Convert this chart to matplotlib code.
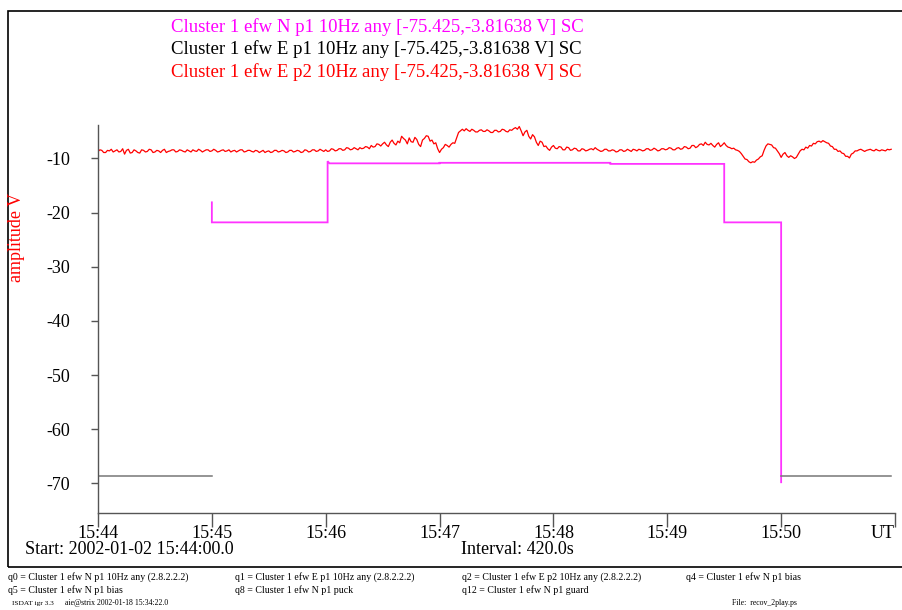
import numpy as np
import matplotlib
matplotlib.use("Agg")
import matplotlib.pyplot as plt
from matplotlib.patches import Rectangle

plt.rcParams['font.family'] = ['Liberation Serif', 'DejaVu Serif']

# ---- data ----
tick_labels = ["15:44", "15:45", "15:46", "15:47", "15:48", "15:49", "15:50", "UT"]
tick_secs = [0, 60, 120, 180, 240, 300, 360, 420]
y_ticks = [-10, -20, -30, -40, -50, -60, -70]
y_range = [-75.425, -3.81638]

# E p2 (red), one sample per second starting at 15:44:00
e_p2 = [
    -8.7, -8.4, -8.5, -8.9, -8.9, -8.5, -8.6, -8.3, -8.8, -8.6, -8.4, -8.8, -8.7, -8.2, -9.2, -8.5, -8.3, -9.0, -8.9, -8.4,
    -8.6, -8.9, -9.0, -8.4, -8.5, -8.8, -8.7, -8.3, -8.4, -8.9, -8.8, -8.5, -8.6, -8.9, -8.5, -8.3, -8.9, -8.7, -8.6, -8.4,
    -8.4, -8.8, -8.7, -8.4, -8.5, -8.7, -8.8, -8.4, -8.6, -8.8, -8.4, -8.6, -8.7, -8.3, -8.5, -8.8, -8.6, -8.4, -8.4, -8.7,
    -8.6, -8.3, -8.5, -8.8, -8.7, -8.5, -8.4, -8.7, -8.6, -8.4, -8.8, -8.6, -8.5, -8.8, -8.6, -8.4, -8.4, -8.8, -8.7, -8.5,
    -8.5, -8.7, -8.8, -8.5, -8.6, -8.9, -8.7, -8.5, -8.9, -8.7, -8.6, -8.9, -8.8, -8.5, -8.5, -8.8, -8.7, -8.5, -8.6, -8.9,
    -8.8, -8.5, -8.5, -8.8, -8.7, -8.5, -8.6, -8.9, -8.8, -8.4, -8.5, -8.8, -8.7, -8.4, -8.4, -8.7, -8.6, -8.3, -8.5, -8.7,
    -8.4, -8.7, -8.6, -8.2, -8.3, -8.6, -8.5, -8.2, -8.2, -8.5, -8.4, -8.0, -8.1, -8.4, -8.3, -8.0, -8.2, -8.4, -8.0, -8.2,
    -8.1, -7.8, -7.9, -8.2, -7.6, -7.9, -7.8, -7.3, -7.4, -7.7, -7.3, -7.0, -7.5, -7.8, -7.0, -6.6, -7.2, -7.5, -6.8, -7.1,
    -5.9, -6.3, -6.6, -7.3, -6.2, -6.9, -7.0, -6.1, -6.5, -7.4, -7.8, -6.6, -6.3, -5.8, -5.9, -6.8, -6.6, -7.3, -7.1, -8.2,
    -8.9, -8.3, -8.0, -7.4, -7.6, -7.9, -7.4, -7.1, -7.2, -6.2, -5.2, -4.9, -4.6, -4.9, -4.5, -4.8, -5.0, -4.6, -4.8, -5.1,
    -5.1, -4.8, -4.7, -5.0, -5.0, -4.7, -4.9, -5.2, -5.2, -4.8, -4.8, -5.1, -5.0, -4.6, -4.7, -5.0, -5.1, -4.7, -4.8, -4.5,
    -4.3, -4.6, -4.1, -4.9, -5.8, -5.1, -4.8, -5.9, -6.4, -5.6, -6.0, -7.0, -7.6, -6.8, -7.0, -7.8, -7.7, -8.2, -8.5, -7.9,
    -7.6, -8.1, -8.2, -7.8, -7.9, -8.4, -8.4, -7.9, -8.0, -8.5, -8.4, -8.1, -8.2, -8.6, -8.6, -8.2, -8.3, -8.6, -8.5, -8.3,
    -8.2, -8.4, -8.0, -8.3, -8.5, -8.7, -8.6, -8.3, -8.3, -8.6, -8.6, -8.4, -8.5, -8.8, -8.7, -8.4, -8.4, -8.7, -8.6, -8.3,
    -8.5, -8.7, -8.3, -8.4, -8.6, -8.3, -8.4, -8.6, -8.5, -8.2, -8.2, -8.5, -8.4, -8.1, -8.3, -8.6, -8.5, -8.2, -8.2, -8.4,
    -8.3, -8.0, -8.1, -8.4, -8.4, -8.1, -8.0, -8.3, -8.2, -7.8, -7.9, -8.2, -8.1, -7.6, -7.6, -8.0, -7.8, -7.4, -7.3, -7.6,
    -7.0, -7.4, -7.5, -7.2, -7.6, -7.9, -7.4, -7.1, -7.8, -7.5, -7.1, -7.6, -7.9, -8.0, -8.2, -8.1, -8.4, -8.5, -8.7, -9.1,
    -9.6, -10.1, -10.2, -10.6, -10.8, -10.6, -10.7, -10.3, -10.1, -9.7, -9.5, -8.5, -7.7, -7.3, -7.4, -7.5, -8.0, -8.1, -8.6, -9.1,
    -9.8, -9.2, -8.9, -9.5, -9.8, -9.5, -9.7, -10.0, -9.8, -9.2, -8.6, -8.3, -8.4, -7.9, -8.1, -7.6, -7.7, -7.2, -7.3, -6.9,
    -6.8, -7.0, -6.7, -6.9, -7.1, -7.2, -7.7, -7.8, -8.3, -8.3, -8.7, -8.6, -9.0, -9.1, -9.6, -9.6, -9.9, -9.2, -9.0, -8.6,
    -8.6, -8.4, -8.3, -8.5, -8.7, -8.5, -8.4, -8.3, -8.5, -8.6, -8.3, -8.5, -8.6, -8.4, -8.5, -8.6, -8.3, -8.4, -8.3,
]
e_p2_step = 1.0

# N p1 (magenta) step trace
n_p1_t = [60, 60, 121, 121, 122, 180, 180, 270, 270, 330, 330, 360, 360]
n_p1_v = [-18.1, -21.8, -21.8, -10.5, -10.9, -10.9, -10.8, -10.8, -11.0, -11.0, -21.8, -21.8, -69.8]

# E p1 (dark grey) segments
e_p1_seg1_t = [0, 60]
e_p1_seg1_v = [-68.6, -68.6]
e_p1_seg2_t = [360, 418]
e_p1_seg2_v = [-68.6, -68.6]

titles = [
    ("Cluster 1 efw N p1 10Hz any [-75.425,-3.81638 V] SC", "#ff00ff"),
    ("Cluster 1 efw E p1 10Hz any [-75.425,-3.81638 V] SC", "#000000"),
    ("Cluster 1 efw E p2 10Hz any [-75.425,-3.81638 V] SC", "#ff0000"),
]

# ---- figure ----
W, H = 902, 610
fig = plt.figure(figsize=(W / 100, H / 100), dpi=100)

def fx(px):
    return px / W

def fy(py):
    return 1 - py / H

# outer frame
fig.patches.append(Rectangle((fx(8), fy(567)), fx(910) - fx(8), fy(11) - fy(567),
                             transform=fig.transFigure, fill=False,
                             edgecolor='black', linewidth=1.2))

ax = fig.add_axes([fx(98), fy(512.7), fx(895) - fx(98), fy(125) - fy(512.7)])
ax.set_xlim(0, 420)
ax.set_ylim(*y_range)
for s in ['top', 'right']:
    ax.spines[s].set_visible(False)
for s in ['left', 'bottom']:
    ax.spines[s].set_color('#555555')
    ax.spines[s].set_linewidth(1.0)

t_red = np.arange(len(e_p2)) * e_p2_step
ax.plot(t_red, e_p2, color='#ff0000', linewidth=0.9)
ax.plot(n_p1_t, n_p1_v, color='#ff33ff', linewidth=1.3, solid_joinstyle='miter')
ax.plot(e_p1_seg1_t, e_p1_seg1_v, color='#777777', linewidth=1.1)
ax.plot(e_p1_seg2_t, e_p1_seg2_v, color='#777777', linewidth=1.1)

ax.set_xticks(tick_secs)
ax.set_xticklabels(tick_labels, fontsize=13)
ax.get_xticklabels()[-1].set_horizontalalignment('right')
ax.set_yticks(y_ticks)
ax.set_yticklabels([str(v) for v in y_ticks], fontsize=13)
ax.tick_params(axis='x', direction='out', length=10, width=1, color='#555555', pad=-1)
ax.tick_params(axis='y', direction='out', length=5, width=1, color='#555555', pad=15)

for i, (txt, col) in enumerate(titles):
    fig.text(fx(171), fy(27 + 22.5 * i), txt, color=col, fontsize=13.5,
             ha='left', va='center')

fig.text(fx(17), fy(237), "amplitude V", color='#ff0000', fontsize=13,
         rotation=90, ha='center', va='center')

fig.text(fx(25), fy(550), "Start: 2002-01-02 15:44:00.0", fontsize=13,
         ha='left', va='center')
fig.text(fx(461), fy(550), "Interval: 420.0s", fontsize=13,
         ha='left', va='center')

foot = [
    (8, 577, "q0 = Cluster 1 efw N p1 10Hz any (2.8.2.2.2)"),
    (235, 577, "q1 = Cluster 1 efw E p1 10Hz any (2.8.2.2.2)"),
    (462, 577, "q2 = Cluster 1 efw E p2 10Hz any (2.8.2.2.2)"),
    (686, 577, "q4 = Cluster 1 efw N p1 bias"),
    (8, 590, "q5 = Cluster 1 efw N p1 bias"),
    (235, 590, "q8 = Cluster 1 efw N p1 puck"),
    (462, 590, "q12 = Cluster 1 efw N p1 guard"),
]
for x, y, t in foot:
    fig.text(fx(x), fy(y), t, fontsize=7.1, ha='left', va='center')

fig.text(fx(12), fy(603), "ISDAT igr 3.3", fontsize=5.3, ha='left', va='center')
fig.text(fx(65), fy(603), "aie@strix 2002-01-18 15:34:22.0", fontsize=5.6, ha='left', va='center')
fig.text(fx(732), fy(603), "File:  recov_2play.ps", fontsize=5.6, ha='left', va='center')

fig.savefig("out.png", dpi=100)
